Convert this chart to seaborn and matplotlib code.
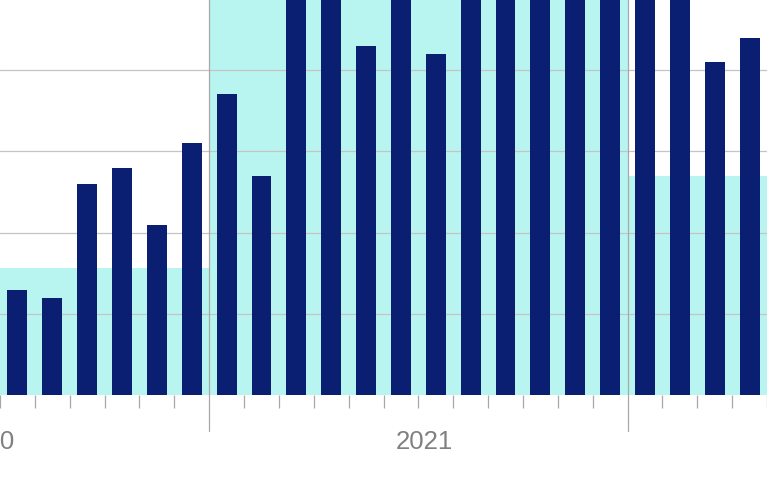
import numpy as np
import pandas as pd
import matplotlib
matplotlib.use("Agg")
import matplotlib.pyplot as plt
import seaborn as sns

# monthly values, Jul 2020 .. Apr 2022 (some run past the top of the crop)
months = ["2020-07", "2020-08", "2020-09", "2020-10", "2020-11", "2020-12",
          "2021-01", "2021-02", "2021-03", "2021-04", "2021-05", "2021-06",
          "2021-07", "2021-08", "2021-09", "2021-10", "2021-11", "2021-12",
          "2022-01", "2022-02", "2022-03", "2022-04"]
values = [13, 12, 26, 28, 21, 31,
          37, 27, 55, 58, 43, 52, 42, 56, 60, 54, 62, 57,
          53, 51, 41, 44]

# yearly level shown as the shaded band
years = ["2020", "2021", "2022"]
year_level = [15.7, 52, 27]

bar_color = "#0a1f72"
shade_color = "#b8f5f0"
line_gray = "#a8a8a8"

df = pd.DataFrame({"month": months, "value": values})

sns.set_style("white")
plt.rcParams["font.family"] = ["Liberation Sans", "DejaVu Sans"]

fig = plt.figure(figsize=(7.67, 4.8), dpi=100)
ax = fig.add_axes([0, 0.1765, 1, 0.8235])

pos = np.arange(len(months))
jan = [i for i, m in enumerate(months) if m.endswith("-01")]
first_year = int(months[0][:4])
month0 = int(months[0][5:])
# year boundaries in bar-position units
bounds = [-(month0 - 1) - 0.5] + [i - 0.5 for i in jan]
bounds.append(bounds[-1] + 12)

# shaded yearly band
ax.fill_between(bounds, year_level + [year_level[-1]], step="post",
                color=shade_color, lw=0, zorder=0)

sns.barplot(data=df, x="month", y="value", color=bar_color, saturation=1,
            width=0.57, linewidth=0, ax=ax, zorder=3)

ax.set_xlim(-0.4714, 21.443)
ax.set_ylim(0, 48.62)

# grid
for g in [10, 20, 30, 40]:
    ax.axhline(g, color="#c4c4c4", lw=0.9, zorder=1)

# year divider lines (go below the axis as long ticks)
for b in bounds[1:-1]:
    ax.plot([b, b], [1, -0.0911], transform=ax.get_xaxis_transform(),
            color=line_gray, lw=0.9, clip_on=False, zorder=2)

# month ticks
minor = [p - 0.5 for p in pos] + [pos[-1] + 0.5]
minor = [m for m in minor if m not in bounds]
ax.set_xticks(minor)
ax.set_xticklabels([])
ax.tick_params(axis="x", length=9.4, width=0.9, color=line_gray, bottom=True)
ax.set_yticks([])
ax.set_xlabel("")
ax.set_ylabel("")
for s in ax.spines.values():
    s.set_visible(False)

# year labels
label_pos = {"2020": -0.9, "2021": 11.67}
for y, xp in label_pos.items():
    ax.text(xp, -0.136, y, transform=ax.get_xaxis_transform(),
            ha="center", va="baseline", fontsize=18.5, color="#808080")

fig.savefig("out.png", dpi=100)
